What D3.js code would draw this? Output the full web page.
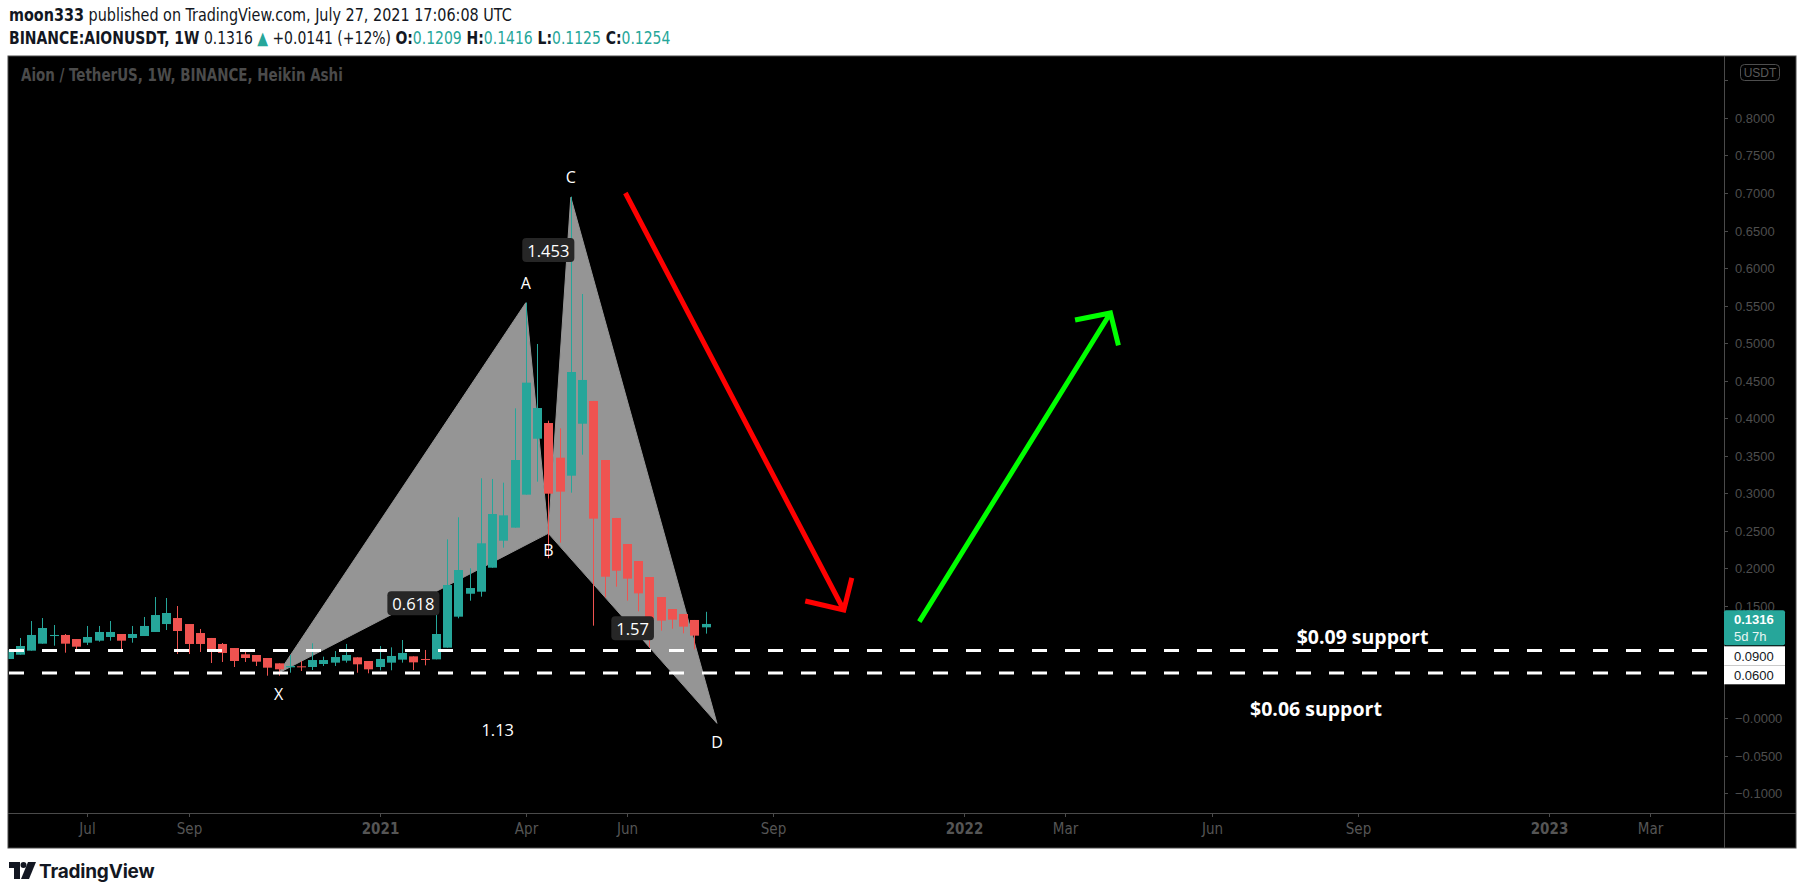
<!DOCTYPE html>
<html>
<head>
<meta charset="utf-8">
<script src="https://cdn.jsdelivr.net/npm/d3@7"></script>
<style>
  body { margin: 0; background: #fff; }
  svg { display: block; }
</style>
</head>
<body>
<div id="chart"></div>
<script>
// weekly Heikin Ashi bars, AION/USDT, Binance
const firstWeek = "2020-05-18", lastWeek = "2021-07-26";
const open  = [.0787,.0844,.0898,.0991,.1093,.1107,.1053,.1004,.1031,.1080,.1120,.1067,.1093,.1147,.1253,.1333,.1253,.1133,.1067,.0987,.0933,.0849,.0840,.0800,.0729,.0676,.0689,.0680,.0720,.0738,.0764,.0809,.0760,.0680,.0738,.0778,.0822,.0787,.0782,.0938,.1351,.1657,.1684,.2004,.2364,.2538,.2978,.3724,.3933,.3471,.3231,.3924,.4227,.3440,.2667,.2320,.2093,.1880,.1613,.1453,.1387,.1307,.1209];
const high  = [.0907,.1067,.1293,.1333,.1240,.1120,.1053,.1227,.1227,.1293,.1120,.1227,.1347,.1613,.1600,.1493,.1253,.1187,.1067,.1000,.0933,.0893,.0840,.0800,.0729,.0840,.0760,.0996,.0818,.0893,.0987,.0809,.0760,.0960,.0942,.1040,.0822,.0907,.1493,.2382,.2676,.1996,.3196,.3187,.3138,.4129,.5538,.4987,.3964,.3862,.6951,.5653,.4227,.3440,.2667,.2320,.2093,.1880,.1613,.1453,.1387,.1307,.1416];
const low   = [.0787,.0844,.0898,.0991,.0964,.0871,.0884,.0973,.1018,.1031,.0920,.1004,.1093,.1147,.1173,.0853,.0853,.0880,.0733,.0747,.0680,.0747,.0693,.0564,.0564,.0604,.0627,.0640,.0693,.0693,.0738,.0604,.0596,.0636,.0636,.0738,.0640,.0702,.0782,.0938,.1329,.1564,.1618,.2004,.2271,.2538,.2978,.3151,.2129,.2338,.3004,.3511,.1231,.1609,.1751,.1564,.1422,.0942,.1164,.1191,.1129,.0916,.1125];
const close = [.0907,.0960,.1107,.1200,.1107,.0991,.0951,.1080,.1147,.1147,.1031,.1120,.1227,.1373,.1400,.1160,.0987,.0987,.0907,.0867,.0760,.0800,.0751,.0671,.0649,.0693,.0684,.0773,.0773,.0813,.0840,.0716,.0649,.0787,.0827,.0867,.0742,.0782,.1120,.1773,.1973,.1733,.2329,.2720,.2702,.3440,.4471,.4133,.2991,.3018,.4613,.4507,.2658,.1884,.1964,.1858,.1662,.1324,.1298,.1311,.1218,.1098,.1254];

// XABCD pattern points and ratio labels
const patternNames  = ["X", "A", "B", "C", "D"];
const patternDates  = ["2020-11-02", "2021-04-05", "2021-04-19", "2021-05-03", "2021-08-02"];
const patternPrices = [0.0600, 0.5537, 0.2462, 0.6942, -0.0071];
const ratioLabels = [
  { text: "0.618", from: "X", to: "B", dy: 0 },
  { text: "1.453", from: "A", to: "C", dy: 0 },
  { text: "1.57",  from: "B", to: "D", dy: 0 },
  { text: "1.13",  from: "X", to: "D", dy: 31 }
];

// support levels
const supportPrices = [0.09, 0.06];
const supportTexts  = ["$0.09 support", "$0.06 support"];
const supportTextDates  = ["2022-09-08", "2022-08-10"];
const supportTextPrices = [0.1085, 0.0133];

// hand drawn arrows: shaft start, tip, two head ends
const redArrow   = [["2021-06-06", 0.700], ["2021-10-20", 0.144], ["2021-09-26", 0.156], ["2021-10-25", 0.1867]];
const greenArrow = [["2021-12-06", 0.1285], ["2022-04-04", 0.540], ["2022-03-13", 0.5307], ["2022-04-09", 0.4968]];

// axes
const priceTicks = d3.range(-0.1, 0.851, 0.05);
const timeTicks = [
  ["2020-07-06", "Jul", false], ["2020-09-07", "Sep", false], ["2021-01-04", "2021", true],
  ["2021-04-05", "Apr", false], ["2021-06-07", "Jun", false], ["2021-09-06", "Sep", false],
  ["2022-01-03", "2022", true], ["2022-03-07", "Mar", false], ["2022-06-06", "Jun", false],
  ["2022-09-05", "Sep", false], ["2023-01-02", "2023", true], ["2023-03-06", "Mar", false]
];
const lastPrice = 0.1316, lastPriceText = "0.1316", countdown = "5d 7h";

const W = 1805, H = 895;
const pane = { left: 8, top: 56, right: 1796, bottom: 848 };
const plotRight = 1724, plotBottom = 813;
const UP = "#26a69a", DOWN = "#ef5350";
const axisFont = "'Liberation Sans', Arial, sans-serif";
const narrowFont = "'Liberation Sans Narrow', 'Arial Narrow', 'DejaVu Sans Condensed', sans-serif";
const labelFont = "'Open Sans', 'DejaVu Sans', sans-serif";

const parse = d3.utcParse("%Y-%m-%d");
const weeks = d3.utcMonday.range(parse(firstWeek), d3.utcDay.offset(parse(lastWeek), 1));
const bars = weeks.map((d, i) => ({ date: d, o: open[i], h: high[i], l: low[i], c: close[i] }));

const x = d3.scaleUtc()
  .domain([parse("2020-07-06"), parse("2023-03-06")])
  .range([87.4, 1650]);
const y = d3.scaleLinear()
  .domain([-0.1, 0.8])
  .range([793, 118]);

const pt = (d, p) => [x(parse(d)), y(p)];

const svg = d3.select("#chart").append("svg")
  .attr("width", W).attr("height", H)
  .style("background", "#fff");

// squeeze a text horizontally to the width it has in the picture
function fitWidth(sel, x0, y0, w) {
  const natural = sel.node().getComputedTextLength();
  sel.attr("x", 0).attr("y", 0)
    .attr("transform", `translate(${x0},${y0}) scale(${w / natural},1)`);
}

// header
const head1 = svg.append("text")
  .style("font-family", narrowFont).style("font-size", "18px").attr("fill", "#131722");
head1.append("tspan").style("font-weight", "bold").text("moon333");
head1.append("tspan").text(" published on TradingView.com, July 27, 2021 17:06:08 UTC");
fitWidth(head1, 9, 21, 503);

const head2 = svg.append("text")
  .style("font-family", narrowFont).style("font-size", "18px").attr("fill", "#131722");
head2.append("tspan").style("font-weight", "bold").text("BINANCE:AIONUSDT, 1W");
head2.append("tspan").text(" 0.1316 ");
head2.append("tspan").attr("fill", UP).text("▲");
head2.append("tspan").text(" +0.0141 (+12%) ");
[["O:", "0.1209"], ["H:", "0.1416"], ["L:", "0.1125"], ["C:", "0.1254"]].forEach(([k, v], i) => {
  head2.append("tspan").style("font-weight", "bold").text((i ? " " : "") + k);
  head2.append("tspan").attr("fill", UP).text(v);
});
fitWidth(head2, 9, 44, 662);

// chart pane
svg.append("rect")
  .attr("x", pane.left).attr("y", pane.top)
  .attr("width", pane.right - pane.left).attr("height", pane.bottom - pane.top)
  .attr("fill", "#000").attr("stroke", "#4a4a4a");

const title = svg.append("text")
  .style("font-family", narrowFont).style("font-size", "17px").style("font-weight", "bold")
  .attr("fill", "#4b4b4b").text("Aion / TetherUS, 1W, BINANCE, Heikin Ashi");
fitWidth(title, 21, 81, 322);

svg.append("clipPath").attr("id", "plotClip").append("rect")
  .attr("x", pane.left + 0.5).attr("y", pane.top)
  .attr("width", plotRight - pane.left - 0.5).attr("height", plotBottom - pane.top);

const plot = svg.append("g").attr("clip-path", "url(#plotClip)");

// XABCD triangles
const pts = {};
patternNames.forEach((n, i) => pts[n] = pt(patternDates[i], patternPrices[i]));
const tri = [["X", "A", "B"], ["B", "C", "D"]];
plot.selectAll("path.tri").data(tri).join("path")
  .attr("class", "tri")
  .attr("d", t => d3.line()(t.map(n => pts[n])) + "Z")
  .attr("fill", "#959595").attr("stroke", "#959595").attr("stroke-width", 1);

// candles
const bw = 9;
const candle = plot.selectAll("g.candle").data(bars).join("g").attr("class", "candle");
candle.append("line")
  .attr("x1", d => Math.round(x(d.date)) + 0.5).attr("x2", d => Math.round(x(d.date)) + 0.5)
  .attr("y1", d => y(d.h)).attr("y2", d => y(d.l))
  .attr("stroke", d => d.c >= d.o ? UP : DOWN).attr("stroke-width", 1);
candle.append("rect")
  .attr("x", d => Math.round(x(d.date)) - 4)
  .attr("y", d => y(Math.max(d.o, d.c)))
  .attr("width", bw)
  .attr("height", d => Math.max(1, Math.abs(y(d.o) - y(d.c))))
  .attr("fill", d => d.c >= d.o ? UP : DOWN);

// support lines
plot.selectAll("line.support").data(supportPrices).join("line")
  .attr("class", "support")
  .attr("x1", pane.left + 1).attr("x2", plotRight)
  .attr("y1", d => y(d)).attr("y2", d => y(d))
  .attr("stroke", "#fff").attr("stroke-width", 3).attr("stroke-dasharray", "15,18");

// ratio labels
ratioLabels.forEach(r => {
  const a = pts[r.from], b = pts[r.to];
  const cx = (a[0] + b[0]) / 2, cy = (a[1] + b[1]) / 2 + r.dy;
  const g = plot.append("g");
  const t = g.append("text").attr("x", cx).attr("y", cy)
    .attr("text-anchor", "middle").attr("dominant-baseline", "central")
    .style("font-family", labelFont).style("font-size", "16.5px").attr("fill", "#fff")
    .text(r.text);
  const bb = t.node().getBBox();
  g.insert("rect", "text")
    .attr("x", bb.x - 5).attr("y", cy - 12).attr("width", bb.width + 10).attr("height", 24)
    .attr("rx", 4).attr("fill", "#262626").attr("fill-opacity", r.dy ? 0 : 1);
});

// point labels
const labelOffset = { X: 21, A: -20, B: 17, C: -20, D: 19 };
plot.selectAll("text.pname").data(patternNames).join("text")
  .attr("class", "pname")
  .attr("x", n => pts[n][0]).attr("y", n => pts[n][1] + labelOffset[n])
  .attr("text-anchor", "middle").attr("dominant-baseline", "central")
  .style("font-family", labelFont).style("font-size", "16px").attr("fill", "#fff")
  .text(n => n);

// arrows
function arrow(spec, color) {
  const p = spec.map(([d, v]) => pt(d, v));
  plot.append("path")
    .attr("d", d3.line()([p[0], p[1]]) + d3.line()([p[2], p[1], p[3]]))
    .attr("fill", "none").attr("stroke", color).attr("stroke-width", 5)
    .attr("stroke-linecap", "butt").attr("stroke-linejoin", "miter");
}
arrow(redArrow, "#ff0000");
arrow(greenArrow, "#00ff00");

// support texts
plot.selectAll("text.stext").data(supportTexts).join("text")
  .attr("class", "stext")
  .attr("x", (d, i) => x(parse(supportTextDates[i])))
  .attr("y", (d, i) => y(supportTextPrices[i]))
  .attr("text-anchor", "middle").attr("dominant-baseline", "central")
  .style("font-family", labelFont).style("font-size", "19.5px").style("font-weight", "bold")
  .attr("fill", "#fff").text(d => d);

// price scale labels boxes (drawn later), used to hide tick labels they cover
const lp = y(lastPrice);
const boxTops = [lp + 27, lp + 46];
const covered = [[64, 81], [lp - 9, lp + 26], [boxTops[0], boxTops[0] + 19], [boxTops[1], boxTops[1] + 19]];
const hidden = v => covered.some(([a, b]) => y(v) > a - 4 && y(v) < b + 4);

// price axis
svg.append("line").attr("x1", plotRight + 0.5).attr("x2", plotRight + 0.5)
  .attr("y1", pane.top).attr("y2", pane.bottom).attr("stroke", "#4a4a4a");
const fmt = v => (v < 0.0001 ? "\u2212" : "") + d3.format(".4f")(Math.abs(v));
const pTick = svg.selectAll("g.ptick").data(priceTicks).join("g").attr("class", "ptick")
  .attr("transform", d => `translate(0,${Math.round(y(d)) + 0.5})`);
pTick.append("line").attr("x1", plotRight).attr("x2", plotRight + 4).attr("stroke", "#4a4a4a");
pTick.filter(d => !hidden(d)).append("text").attr("x", plotRight + 11).attr("dominant-baseline", "central")
  .style("font-family", axisFont).style("font-size", "13px").attr("fill", "#4e4e4e")
  .text(fmt);

// currency box
svg.append("rect").attr("x", 1740.5).attr("y", 64.5).attr("width", 39).attr("height", 16).attr("rx", 4)
  .attr("fill", "#000").attr("stroke", "#4e4e4e");
svg.append("text").attr("x", 1760).attr("y", 73).attr("text-anchor", "middle").attr("dominant-baseline", "central")
  .style("font-family", axisFont).style("font-size", "12px").attr("fill", "#5a5a5a").text("USDT");

// last price box
svg.append("rect").attr("x", plotRight).attr("y", lp - 9).attr("width", 61).attr("height", 35).attr("rx", 2).attr("fill", UP);
svg.append("text").attr("x", plotRight + 10).attr("y", lp + 0.5).attr("dominant-baseline", "central")
  .style("font-family", axisFont).style("font-size", "13px").style("font-weight", "bold").attr("fill", "#fff").text(lastPriceText);
svg.append("text").attr("x", plotRight + 10).attr("y", lp + 17).attr("dominant-baseline", "central")
  .style("font-family", axisFont).style("font-size", "13px").attr("fill", "#e8f6f4").text(countdown);

// support price boxes
supportPrices.forEach((v, i) => {
  svg.append("rect").attr("x", plotRight).attr("y", boxTops[i]).attr("width", 61).attr("height", 19).attr("fill", "#fff");
  svg.append("text").attr("x", plotRight + 10).attr("y", boxTops[i] + 10).attr("dominant-baseline", "central")
    .style("font-family", axisFont).style("font-size", "13px").attr("fill", "#131722").text(d3.format(".4f")(v));
});

// time axis
svg.append("line").attr("x1", pane.left).attr("x2", pane.right)
  .attr("y1", plotBottom + 0.5).attr("y2", plotBottom + 0.5).attr("stroke", "#4a4a4a");
const tTick = svg.selectAll("g.ttick").data(timeTicks).join("g").attr("class", "ttick")
  .attr("transform", d => `translate(${Math.round(x(parse(d[0]))) + 0.5},0)`);
tTick.append("line").attr("y1", plotBottom).attr("y2", plotBottom + 4).attr("stroke", "#4a4a4a");
tTick.append("text").attr("y", 829).attr("text-anchor", "middle").attr("dominant-baseline", "central")
  .style("font-family", narrowFont).style("font-size", "15px")
  .style("font-weight", d => d[2] ? "bold" : "normal")
  .attr("fill", "#555").text(d => d[1]);

// logo
const logo = svg.append("g").attr("transform", "translate(9,862)").attr("fill", "#131722");
logo.append("path").attr("d", "M0,0 H11 V17 H5 V6 H0 Z");
logo.append("circle").attr("cx", 14.5).attr("cy", 3).attr("r", 3);
logo.append("path").attr("d", "M19,0 H27 L20,17 H12 Z");
svg.append("text").attr("x", 39).attr("y", 878)
  .style("font-family", "Inter, 'Open Sans', sans-serif").style("font-size", "19px").style("font-weight", "bold")
  .style("letter-spacing", "-0.2px").attr("fill", "#131722").text("TradingView");
</script>
</body>
</html>
